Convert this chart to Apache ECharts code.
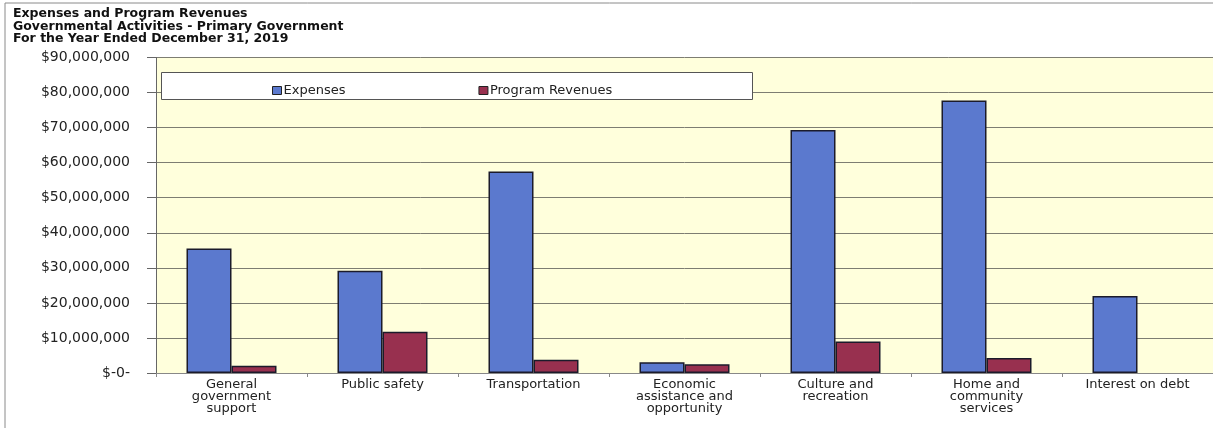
<!DOCTYPE html>
<html>
<head>
<meta charset="utf-8">
<script src="https://cdn.jsdelivr.net/npm/echarts@6/dist/echarts.min.js"></script>
<style>
html,body{margin:0;padding:0;background:#fff;}
#c{width:1213px;height:428px;}
</style>
</head>
<body>
<div id="c"></div>
<script>
const titleLines = ['Expenses and Program Revenues', 'Governmental Activities - Primary Government', 'For the Year Ended December 31, 2019'];
const categories = ['General\ngovernment\nsupport', 'Public safety', 'Transportation', 'Economic\nassistance and\nopportunity', 'Culture and\nrecreation', 'Home and\ncommunity\nservices', 'Interest on debt'];
const seriesNames = ['Expenses', 'Program Revenues'];
const expenses = [35500000, 29200000, 57500000, 3100000, 69300000, 77700000, 22000000];
const programRevenues = [2100000, 11800000, 3800000, 2500000, 9000000, 4300000, null];
const yTickLabels = ['$-0-', '$10,000,000', '$20,000,000', '$30,000,000', '$40,000,000', '$50,000,000', '$60,000,000', '$70,000,000', '$80,000,000', '$90,000,000'];
const yStep = 10000000;

const chart = echarts.init(document.getElementById('c'), null, {renderer: 'canvas'});
const FONT = 'DejaVu Sans';
chart.setOption({
  animation: false,
  backgroundColor: '#ffffff',
  title: {
    text: titleLines.join('\n'),
    left: 8, top: 3,
    textStyle: {fontFamily: FONT, fontSize: 12.5, fontWeight: 'bold', color: '#111', lineHeight: 12.2}
  },
  graphic: [
    {type: 'rect', z: 0, silent: true, shape: {x: 5, y: 3, width: 1220, height: 440}, style: {fill: 'none', stroke: '#8a8a8a', lineWidth: 1}},
    {type: 'rect', z: 50, silent: true, shape: {x: 161.5, y: 72.5, width: 591, height: 27}, style: {fill: '#ffffff', stroke: '#555', lineWidth: 1}}
  ],
  legend: {
    z: 60,
    data: seriesNames,
    left: 267, top: 79,
    itemGap: 133,
    itemWidth: 9, itemHeight: 8,
    icon: 'rect',
    textStyle: {fontFamily: FONT, fontSize: 13, color: '#222', padding: [0, 0, 0, -3]},
    itemStyle: {borderColor: '#222', borderWidth: 1}
  },
  grid: {
    left: 156, top: 57.5, width: 1063, bottom: 55,
    show: true, backgroundColor: '#FFFFDC', borderWidth: 0
  },
  xAxis: {
    type: 'category',
    data: categories,
    axisLine: {lineStyle: {color: '#888', width: 1}},
    axisTick: {show: true, length: 4, lineStyle: {color: '#888'}},
    axisLabel: {fontFamily: FONT, fontSize: 13, lineHeight: 12, color: '#222', margin: 6, interval: 0}
  },
  yAxis: {
    type: 'value',
    min: 0, max: 90000000, interval: yStep,
    axisLine: {show: true, lineStyle: {color: '#666'}},
    axisTick: {show: true, length: 9, lineStyle: {color: '#666'}},
    splitLine: {lineStyle: {color: '#7d7d72', width: 1}},
    axisLabel: {
      fontFamily: FONT, fontSize: 14, color: '#222', margin: 26,
      formatter: v => yTickLabels[Math.round(v / yStep)]
    }
  },
  series: [
    {name: seriesNames[0], type: 'bar', data: expenses, barWidth: 45, barGap: '0%',
     itemStyle: {color: '#5B79CE', borderColor: '#1b1b2b', borderWidth: 1.5}},
    {name: seriesNames[1], type: 'bar', data: programRevenues, barWidth: 45,
     itemStyle: {color: '#98304F', borderColor: '#1b1b2b', borderWidth: 1.5}}
  ]
});
</script>
</body>
</html>
